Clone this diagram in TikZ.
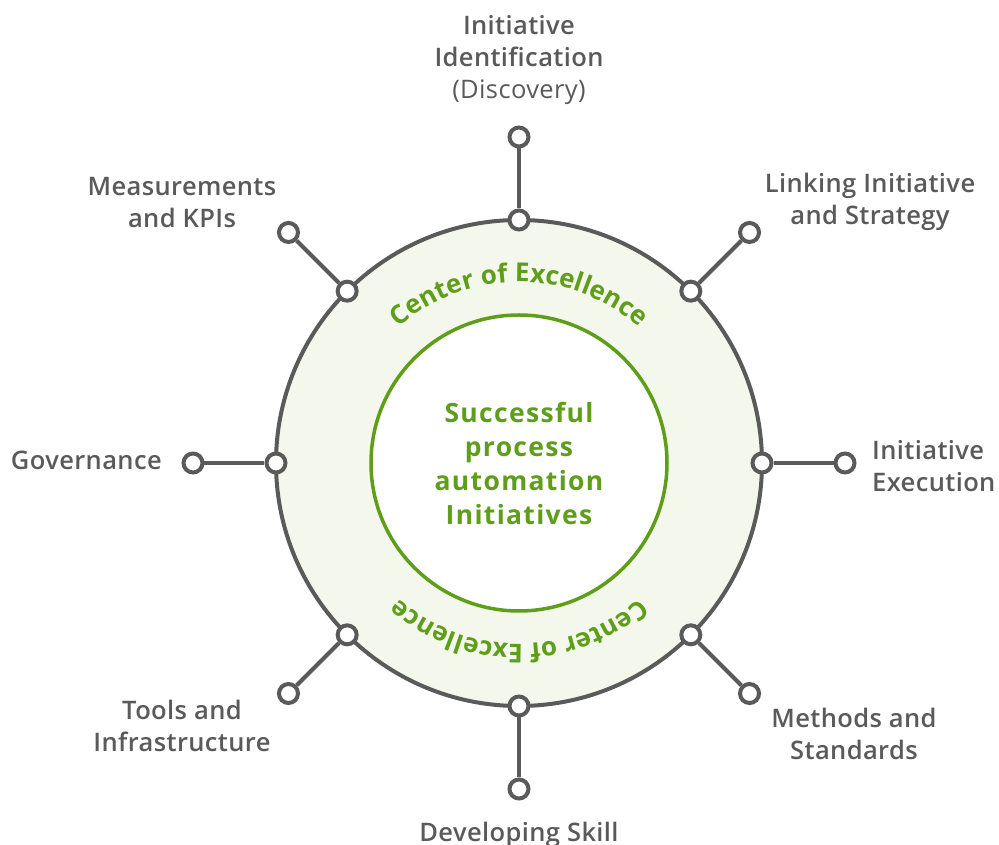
\documentclass[tikz,border=0pt]{standalone}
\usepackage{fontspec}
\setmainfont{Open Sans}
\IfFontExistsTF{Open Sans SemiBold}{\newfontfamily\osemi{Open Sans SemiBold}[LetterSpace=1.5]}{%
  \IfFontExistsTF{Open Sans Semibold}{\newfontfamily\osemi{Open Sans Semibold}[LetterSpace=1.5]}{\newfontfamily\osemi{Open Sans}[UprightFont=*, UprightFeatures={FakeBold=1.5}]}}
\newfontfamily\oreg{Open Sans}[LetterSpace=1.5]
\newfontfamily\obold{Open Sans Bold}
\newfontfamily\oboldsp{Open Sans Bold}[LetterSpace=5]
\usetikzlibrary{decorations.text}
\definecolor{cgray}{HTML}{5A5A5A}
\definecolor{cgreen}{HTML}{5F9E1A}
\definecolor{cring}{HTML}{F4F8EC}
\tikzset{
  dot/.style={circle, draw=cgray, fill=white, line width=4pt, minimum size=19pt, inner sep=0pt},
  spoke/.style={draw=cgray, line width=4pt},
  lbl/.style={text=cgray, font=\osemi\fontsize{25.5}{32}\selectfont, align=center, inner sep=0pt},
  ringtext/.style={decorate, decoration={text along path, text align=center,
    text={|\obold\fontsize{26}{26}\selectfont\color{cgreen}|Center of Excellence}}},
}
\begin{document}
\begin{tikzpicture}[x=1pt,y=1pt]
\useasboundingbox (-519,-382) rectangle (480,463);
\draw[cgray, fill=cring, line width=4pt] (0,0) circle[radius=243];
\draw[cgreen, fill=white, line width=3.5pt] (0,0) circle[radius=148];
\foreach \a/\n in {90/1,45/2,0/3,-45/4,-90/5,-135/6,180/7,135/8}{
  \node[dot] (i\n) at (\a:243) {};
  \node[dot] (o\n) at (\a:326) {};
  \draw[spoke] (i\n) -- (o\n);
}
\path[ringtext] (150:181) arc[start angle=150, end angle=30, radius=181];
\path[ringtext] (-30:181) arc[start angle=-30, end angle=-150, radius=181];
\node[text=cgreen, font=\oboldsp\fontsize{26.5}{34}\selectfont, align=center, inner sep=0pt] (ctr) at (0,0) {Successful\\process\\automation\\Initiatives};
\node[lbl] (l1) at (0,403) {Initiative\\Identification\\{\oreg (Discovery)}};
\node[lbl] (l2) at (351,261) {Linking Initiative\\and Strategy};
\node[lbl, align=left, anchor=west] (l3) at (353,-3) {Initiative\\Execution};
\node[lbl] (l4) at (335,-271) {Methods and\\Standards};
\node[lbl, anchor=base] (l5) at (0,-378) {Developing Skill};
\node[lbl] (l6) at (-337,-263) {Tools and\\Infrastructure};
\node[lbl, anchor=base east] (l7) at (-357,-7) {Governance};
\node[lbl] (l8) at (-337,260.5) {Measurements\\and KPIs};
\end{tikzpicture}
\end{document}
